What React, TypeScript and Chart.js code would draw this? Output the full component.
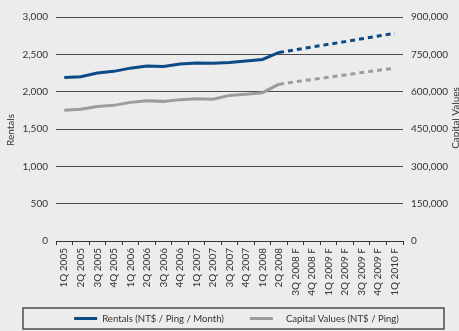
import React, { useEffect, useRef } from "react";
import { Chart, registerables } from "chart.js";

Chart.register(...registerables);

const categories = [
  "1Q 2005", "2Q 2005", "3Q 2005", "4Q 2005",
  "1Q 2006", "2Q 2006", "3Q 2006", "4Q 2006",
  "1Q 2007", "2Q 2007", "3Q 2007", "4Q 2007",
  "1Q 2008", "2Q 2008", "3Q 2008 F", "4Q 2008 F",
  "1Q 2009 F", "2Q 2009 F", "3Q 2009 F", "4Q 2009 F", "1Q 2010 F",
];
const rentals = [
  2190, 2200, 2250, 2272, 2315, 2345, 2338, 2370, 2385, 2380, 2392, 2410,
  2432, 2525, 2562, 2598, 2635, 2670, 2708, 2745, 2780,
];
const capitalValues = [
  525000, 529000, 540000, 545000, 557000, 563000, 561000, 568000, 572000,
  570000, 585000, 590000, 596000, 630000, 640000, 649000, 658000, 667000,
  677000, 686000, 694000,
];
const rentalTicks = [0, 500, 1000, 1500, 2000, 2500, 3000];
const capitalTicks = [0, 150000, 300000, 450000, 600000, 750000, 900000];
const forecastStart = 13; // index of 2Q 2008, last actual point

const FONT = "Lato, 'Open Sans', sans-serif";
const TEXT = "#333333";
const BLUE = "#0b4a85";
const GRAY = "#9c9c9c";

const fmt = (v: number) => Number(v).toLocaleString("en-US");

const decorPlugin = {
  id: "decor",
  afterDraw(chart: any) {
    const ctx = chart.ctx as CanvasRenderingContext2D;
    const area = chart.chartArea;
    ctx.save();
    ctx.fillStyle = TEXT;
    ctx.font = `10px ${FONT}`;
    ctx.textAlign = "center";
    ctx.textBaseline = "middle";
    // axis titles
    const midY = (area.top + area.bottom) / 2;
    ctx.save();
    ctx.translate(11, midY + 1);
    ctx.rotate(-Math.PI / 2);
    ctx.fillText("Rentals", 0, 0);
    ctx.restore();
    ctx.save();
    ctx.translate(chart.width - 3, midY - 11);
    ctx.rotate(-Math.PI / 2);
    ctx.fillText("Capital Values", 0, 0);
    ctx.restore();

    // legend
    const boxL = 23, boxR = chart.width - 15, boxT = chart.height - 23, boxB = chart.height - 2;
    ctx.strokeStyle = "#4a4a4a";
    ctx.lineWidth = 1.5;
    ctx.strokeRect(boxL, boxT, boxR - boxL, boxB - boxT);
    const cy = (boxT + boxB) / 2;
    const items = chart.data.datasets.map((d: any) => ({ label: d.label, color: d.borderColor }));
    ctx.font = `9.6px ${FONT}`;
    const lineW = 23, gapText = 5, gapItems = 26;
    const widths = items.map((it: any, i: number) => lineW + gapText + (i === 1 ? 8 : 0) + ctx.measureText(it.label).width);
    const total = widths.reduce((a: number, b: number) => a + b, 0) + gapItems * (items.length - 1);
    let x = (boxL + boxR) / 2 - total / 2 + 3;
    ctx.textAlign = "left";
    items.forEach((it: any, i: number) => {
      ctx.strokeStyle = it.color;
      ctx.lineWidth = 3;
      ctx.beginPath();
      ctx.moveTo(x, cy);
      ctx.lineTo(x + lineW, cy);
      ctx.stroke();
      ctx.fillStyle = TEXT;
      ctx.fillText(it.label, x + lineW + gapText + (i === 1 ? 8 : 0), cy);
      x += widths[i] + gapItems;
    });
    ctx.restore();
  },
};

export default function App() {
  const ref = useRef<HTMLCanvasElement>(null);
  useEffect(() => {
    document.body.style.margin = "0";
    document.body.style.background = "#ececec";
    document.body.style.overflow = "hidden";
    const dash = (c: any) => (c.p0DataIndex >= forecastStart ? [5, 4] : undefined);
    const chart = new Chart(ref.current as HTMLCanvasElement, {
      type: "line",
      data: {
        labels: categories,
        datasets: [
          {
            label: "Rentals (NT$ / Ping / Month)",
            data: rentals,
            borderColor: BLUE,
            backgroundColor: BLUE,
            borderWidth: 3,
            pointRadius: 0,
            tension: 0,
            yAxisID: "y",
            segment: { borderDash: dash },
          },
          {
            label: "Capital Values (NT$ / Ping)",
            data: capitalValues,
            borderColor: GRAY,
            backgroundColor: GRAY,
            borderWidth: 3,
            pointRadius: 0,
            tension: 0,
            yAxisID: "y1",
            segment: { borderDash: dash },
          },
        ],
      },
      options: {
        animation: false,
        responsive: false,
        devicePixelRatio: 1,
        layout: { padding: { top: 17, bottom: 26, left: 0, right: 0 } },
        plugins: { legend: { display: false }, tooltip: { enabled: false } },
        scales: {
          x: {
            offset: true,
            grid: { offset: true, drawOnChartArea: false, tickLength: 4, color: "#333", lineWidth: 1 },
            border: { display: true, color: "#333", width: 1 },
            ticks: {
              autoSkip: false,
              maxRotation: 90,
              minRotation: 90,
              padding: 3,
              color: TEXT,
              font: { family: FONT, size: 10 },
            },
            afterFit: (s: any) => { s.height = 64; },
          },
          y: {
            position: "left",
            min: 0,
            max: 3000,
            afterBuildTicks: (s: any) => { s.ticks = rentalTicks.map((v) => ({ value: v })); },
            grid: { color: "#4a4a4a", lineWidth: 1, drawTicks: false },
            border: { display: false },
            ticks: {
              padding: 8,
              color: TEXT,
              font: { family: FONT, size: 10 },
              callback: (v: any) => fmt(v),
            },
            afterFit: (s: any) => { s.width = 56; },
          },
          y1: {
            position: "right",
            min: 0,
            max: 900000,
            afterBuildTicks: (s: any) => { s.ticks = capitalTicks.map((v) => ({ value: v })); },
            grid: { display: false, drawTicks: false },
            border: { display: false },
            ticks: {
              padding: 8,
              color: TEXT,
              font: { family: FONT, size: 10 },
              callback: (v: any) => fmt(v),
            },
            afterFit: (s: any) => { s.width = 56; },
          },
        },
      },
      plugins: [decorPlugin],
    } as any);
    return () => chart.destroy();
  }, []);
  return (
    <div style={{ width: 459, height: 331, background: "#ececec" }}>
      <canvas ref={ref} width={459} height={331} style={{ display: "block" }} />
    </div>
  );
}
